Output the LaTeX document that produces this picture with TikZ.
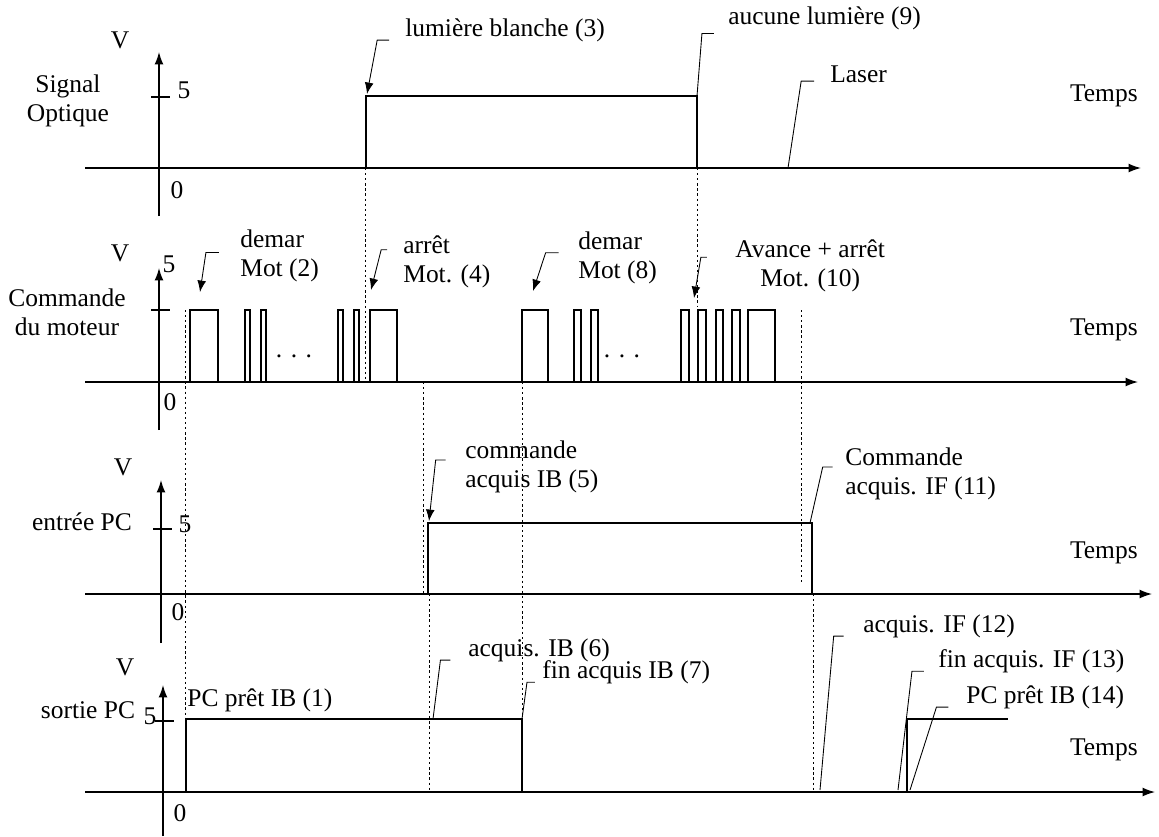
\documentclass[tikz,border=0pt]{standalone}
\usepackage{fontspec}
\setmainfont{Liberation Serif}
\usetikzlibrary{arrows.meta}

\begin{document}
\begin{tikzpicture}[x=0.02cm, y=-0.02cm,
    font=\fontsize{14.5}{16.5}\selectfont,
    axis/.style={-{Latex[length=7pt,width=5pt]}, line width=0.75pt},
    signal/.style={line width=0.6pt},
    guide/.style={line width=0.55pt, dash pattern=on 1.3pt off 1.6pt},
    leader/.style={line width=0.5pt},
    pointer/.style={leader, -{Latex[length=6.5pt,width=5pt]}},
    lbl/.style={inner sep=0pt}]
\useasboundingbox (0,0) rectangle (1159,836);

% ---------- Signal optique ----------
\draw[axis] (85,168) -- (1141,168);
\draw[axis] (159,216) -- (159,52);
\draw[signal] (151,97) -- (170,97);
\node[lbl] (vA) at (120,40) {V};
\node[lbl, align=center] (nameA) at (68,101) {Signal\\Optique};
\node[lbl] (fiveA) at (184,90) {5};
\node[lbl] (zeroA) at (177,190) {0};
\node[lbl, anchor=east] (tA) at (1138,96) {Temps};
\draw[signal] (159,168) -- (366,168) -- (366,96) -- (697,96) -- (697,168);

\coordinate (pt3) at (367,94);
\coordinate (pt9) at (697,96);
\coordinate (ptL) at (788,168);
\node[lbl, anchor=west] (l3) at (405,30) {lumière blanche (3)};
\node[lbl, anchor=west] (l9) at (728,18) {aucune lumière (9)};
\node[lbl, anchor=west] (lL) at (830,74) {Laser};
\draw[pointer] ([xshift=-9pt,yshift=1pt]l3.south west) -- ++(-12,0) -- (pt3);
\draw[leader] ([xshift=-8pt,yshift=-2pt]l9.south west) -- ++(-12,0) -- (pt9);
\draw[leader] ([xshift=-9pt,yshift=1pt]lL.south west) -- ++(-13,0) -- (ptL);

% ---------- Commande du moteur ----------
\draw[axis] (85,382) -- (1138,382);
\draw[axis] (159,430) -- (159,268);
\draw[signal] (151,310) -- (170,310);
\node[lbl] (vB) at (120,253) {V};
\node[lbl, align=center] (nameB) at (67,312) {Commande\\du moteur};
\node[lbl] (fiveB) at (169,264) {5};
\node[lbl] (zeroB) at (170,402) {0};
\node[lbl, anchor=east] (tB) at (1138,330) {Temps};
\foreach \a/\b in {190/218, 245/250, 261/266, 338/343, 354/359, 370/397,
                   522/548, 574/581, 591/598, 681/689, 698/706, 716/723,
                   732/740, 748/775}
  \draw[signal] (\a,382) -- (\a,310) -- (\b,310) -- (\b,382);
\node[lbl] (dotsB1) at (294,356) {. . .};
\node[lbl] (dotsB2) at (622,356) {. . .};

\coordinate (pt2) at (200,292);
\coordinate (pt4) at (371,290);
\coordinate (pt8) at (533,291);
\coordinate (pt10) at (694,298);
\node[lbl, anchor=west, align=left] (l2) at (240,256) {demar\\Mot (2)};
\node[lbl, anchor=west, align=left] (l4) at (403,262) {arrêt\\Mot. (4)};
\node[lbl, anchor=west, align=left] (l8) at (578,258) {demar\\Mot (8)};
\node[lbl, anchor=west, align=center] (l10) at (735,266) {Avance + arrêt\\Mot. (10)};
\draw[pointer] ([xshift=-12pt,yshift=2pt]l2.west) -- ++(-13,0) -- (pt2);
\draw[pointer] ([xshift=-9pt,yshift=7pt]l4.west) -- ++(-6,0) -- (pt4);
\draw[pointer] ([xshift=-11pt,yshift=3pt]l8.west) -- ++(-13,0) -- (pt8);
\draw[pointer] ([xshift=-16pt,yshift=5pt]l10.west) -- ++(-6,0) -- (pt10);

% ---------- entree PC ----------
\draw[axis] (85,594) -- (1152,594);
\draw[axis] (161,643) -- (161,480);
\draw[signal] (153,529) -- (172,529);
\node[lbl] (vC) at (123,467) {V};
\node[lbl] (nameC) at (82,522) {entrée PC};
\node[lbl] (fiveC) at (185,524) {5};
\node[lbl] (zeroC) at (178,612) {0};
\node[lbl, anchor=east] (tC) at (1138,553) {Temps};
\draw[signal] (161,594) -- (428,594) -- (428,523) -- (812,523) -- (812,594);

\coordinate (pt5) at (429,521);
\coordinate (pt11) at (810,523);
\node[lbl, anchor=west, align=left] (l5) at (465,467) {commande\\acquis IB (5)};
\node[lbl, anchor=west, align=left] (l11) at (845,474) {Commande\\acquis. IF (11)};
\draw[pointer] ([xshift=-11pt,yshift=4pt]l5.west) -- ++(-10,0) -- (pt5);
\draw[leader] ([xshift=-7pt,yshift=4pt]l11.west) -- ++(-10,0) -- (pt11);

% ---------- sortie PC ----------
\draw[axis] (85,792) -- (1155,792);
\draw[axis] (163,836) -- (163,685);
\draw[signal] (155,721) -- (174,721);
\node[lbl] (vD) at (125,667) {V};
\node[lbl] (nameD) at (88,710) {sortie PC};
\node[lbl] (fiveD) at (150,716) {5};
\node[lbl] (zeroD) at (180,813) {0};
\node[lbl, anchor=east] (tD) at (1138,750) {Temps};
\draw[signal] (163,792) -- (186,792) -- (186,719) -- (522,719) -- (522,792);
\draw[signal] (907,792) -- (907,719) -- (1008,719);
\node[lbl, anchor=west] (l1) at (187,700) {PC prêt IB (1)};

\coordinate (pt6) at (433,719);
\coordinate (pt7) at (522,719);
\coordinate (pt12) at (820,790);
\coordinate (pt13) at (898,790);
\coordinate (pt14) at (910,790);
\node[lbl, anchor=west] (l6) at (468,650) {acquis. IB (6)};
\node[lbl, anchor=west] (l7) at (542,672) {fin acquis IB (7)};
\node[lbl, anchor=west] (l12) at (863,626) {acquis. IF (12)};
\node[lbl, anchor=west] (l13) at (938,661) {fin acquis. IF (13)};
\node[lbl, anchor=west] (l14) at (966,697) {PC prêt IB (14)};
\draw[leader] ([xshift=-10pt,yshift=1pt]l6.south west) -- ++(-10,0) -- (pt6);
\draw[leader] ([xshift=-4pt,yshift=1pt]l7.south west) -- ++(-8,0) -- (pt7);
\draw[leader] ([xshift=-11pt,yshift=1pt]l12.south west) -- ++(-10,0) -- (pt12);
\draw[leader] ([xshift=-8pt,yshift=1pt]l13.south west) -- ++(-12,0) -- (pt13);
\draw[leader] ([xshift=-10pt,yshift=1pt]l14.south west) -- ++(-12,0) -- (pt14);

% ---------- reperes pointilles ----------
\draw[guide] (185,310) -- (185,719);
\draw[guide] (365,168) -- (365,382);
\draw[guide] (697,168) -- (697,306);
\draw[guide] (423,382) -- (423,594);
\draw[guide] (429,594) -- (429,792);
\draw[guide] (522,382) -- (522,719);
\draw[guide] (801,310) -- (801,583);
\draw[guide] (813,594) -- (813,792);
\end{tikzpicture}
\end{document}
